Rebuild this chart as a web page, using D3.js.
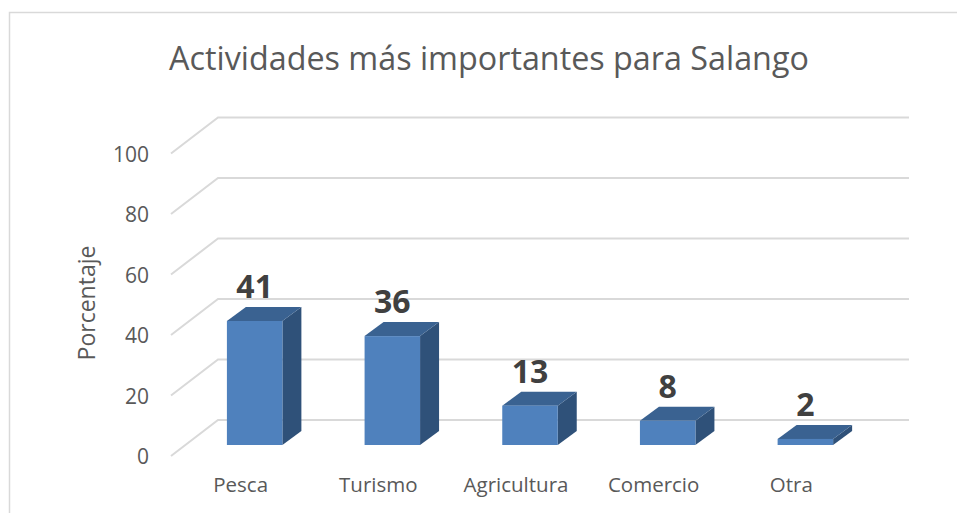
<!DOCTYPE html>
<html>
<head>
<meta charset="utf-8">
<script src="https://cdn.jsdelivr.net/npm/d3@7"></script>
<style>
  html,body{margin:0;padding:0;background:#fff}
  svg{display:block}
  text{font-family:"Open Sans",sans-serif}
</style>
</head>
<body>
<div id="chart"></div>
<script>
const categories = ['Pesca','Turismo','Agricultura','Comercio','Otra']
const values = [41,36,13,8,2]
const tickValues = [0,20,40,60,80,100]
const titleText = 'Actividades más importantes para Salango'
const yAxisLabel = 'Porcentaje'

const width = 957, height = 513
const svg = d3.select('#chart').append('svg').attr('width',width).attr('height',height)

// chart frame, only the top and left edges show in the crop
svg.append('path').attr('d','M9.5,513V12.5H957').attr('fill','none').attr('stroke','#d9d9d9').attr('stroke-width',1.5)

svg.append('text').attr('x',489).attr('y',69.5).attr('text-anchor','middle')
  .attr('font-size',32.3).attr('fill','#595959').text(titleText)

// y scale for the front plane, wall and bars are this shifted back
const y = d3.scaleLinear().domain([0,100]).range([456,153.5])
const x = d3.scaleBand().domain(categories).range([185.6,874.4]).paddingInner(0.597).paddingOuter(0.3)

const wallDx = 47, wallDy = -36, wallRight = 909
const barBase = -11, depthX = 19, depthY = -14

const grid = svg.append('g')
tickValues.forEach(t=>{
  const yy = y(t)
  grid.append('path')
    .attr('d',`M171,${yy}L${171+wallDx},${yy+wallDy}H${wallRight}`)
    .attr('fill','none').attr('stroke','#d9d9d9').attr('stroke-width',2)
})

const ticks = svg.append('g')
tickValues.forEach(t=>{
  ticks.append('text').attr('x',149).attr('y',y(t)+8).attr('text-anchor','end')
    .attr('font-size',21).attr('fill','#595959').text(t)
})

svg.append('text').attr('transform','translate(95,303) rotate(-90)').attr('text-anchor','middle')
  .attr('font-size',23).attr('fill','#595959').text(yAxisLabel)

const bars = svg.selectAll('.bar').data(categories.map((c,i)=>({c,v:values[i]}))).enter().append('g').attr('class','bar')
const bw = x.bandwidth()

// side face
bars.append('path').attr('fill','#2f5179').attr('d',d=>{
  const r = x(d.c)+bw, t = y(d.v)+barBase, b = y(0)+barBase
  return `M${r},${t}l${depthX},${depthY}V${b+depthY}L${r},${b}Z`
})
// top face
bars.append('path').attr('fill','#3a6291').attr('d',d=>{
  const l = x(d.c), t = y(d.v)+barBase
  return `M${l},${t}l${depthX},${depthY}h${bw}l${-depthX},${-depthY}Z`
})
// front face
bars.append('rect').attr('x',d=>x(d.c)).attr('y',d=>y(d.v)+barBase).attr('width',bw)
  .attr('height',d=>y(0)-y(d.v)).attr('fill','#4f81bd')

bars.append('text').attr('x',d=>x(d.c)+bw/2).attr('y',d=>y(d.v)+barBase-23).attr('text-anchor','middle')
  .attr('font-size',32).attr('font-weight',700).attr('fill','#404040').text(d=>d.v)

bars.append('text').attr('x',d=>x(d.c)+bw/2-14).attr('y',492).attr('text-anchor','middle')
  .attr('font-size',20.5).attr('fill','#595959').text(d=>d.c)
</script>
</body>
</html>
